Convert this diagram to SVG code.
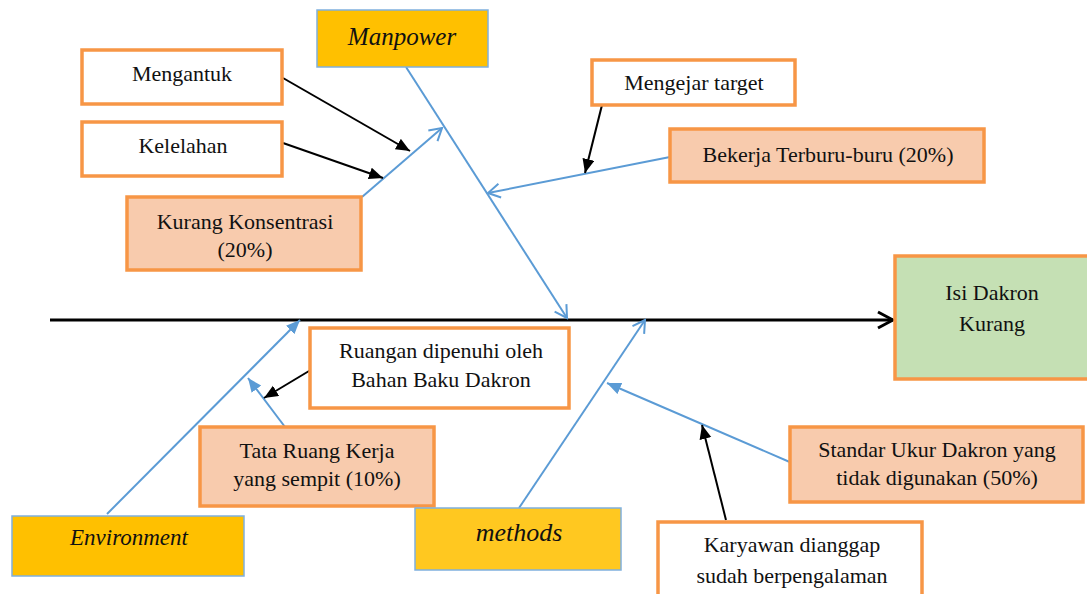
<svg xmlns="http://www.w3.org/2000/svg" width="1087" height="594" viewBox="0 0 1087 594">
  <style>
    text { font-family: "Liberation Serif", Tinos, "Noto Serif", FreeSerif, "DejaVu Serif", "Times New Roman", Times, serif; }
    .txt { font-size: 22px; fill: #111111; text-anchor: middle; }
    .cat { font-style: italic; fill: #111111; text-anchor: middle; }
    .cause { fill: #ffffff; stroke: #f79646; stroke-width: 3.5; }
    .major { fill: #f8cbad; stroke: #f79646; stroke-width: 3.5; }
    .effect { fill: #c5e0b4; stroke: #f79646; stroke-width: 3.5; }
    .head { fill: #ffc000; stroke: #7fb0de; stroke-width: 1.5; }
    .bone { stroke: #5b9bd5; stroke-width: 2; fill: none; }
    .sub { stroke: #000000; stroke-width: 2; fill: none; }
  </style>
  <defs>
    <marker id="blackTri" markerUnits="userSpaceOnUse" markerWidth="16" markerHeight="14" refX="14" refY="6" orient="auto">
      <path d="M0,0 L14,6 L0,12 Z" fill="#000000"/>
    </marker>
    <marker id="blueOpen" markerUnits="userSpaceOnUse" markerWidth="16" markerHeight="18" refX="13" refY="8" orient="auto">
      <path d="M1,1 L13,8 L1,15" fill="none" stroke="#5b9bd5" stroke-width="2"/>
    </marker>
    <marker id="blueTri" markerUnits="userSpaceOnUse" markerWidth="16" markerHeight="14" refX="14" refY="6" orient="auto">
      <path d="M0,0 L14,6 L0,12 Z" fill="#5b9bd5"/>
    </marker>
    <marker id="spineHead" markerUnits="userSpaceOnUse" markerWidth="20" markerHeight="22" refX="17" refY="10" orient="auto">
      <path d="M2,2 L17,10 L2,18" fill="none" stroke="#000000" stroke-width="3"/>
    </marker>
  </defs>

  <!-- connectors: spine, category bones and sub-causes -->
  <g id="connectors">
    <line x1="50" y1="320" x2="893" y2="320" stroke="#000000" stroke-width="3" marker-end="url(#spineHead)"/>
    <line class="bone" x1="406" y1="67" x2="567" y2="318" marker-end="url(#blueOpen)"/>
    <line class="bone" x1="362" y1="197" x2="442" y2="128" marker-end="url(#blueOpen)"/>
    <line class="bone" x1="670" y1="157" x2="488" y2="193" marker-end="url(#blueOpen)"/>
    <line class="bone" x1="519" y1="508" x2="645" y2="320" marker-end="url(#blueOpen)"/>
    <line class="bone" x1="107" y1="514" x2="300" y2="320" marker-end="url(#blueTri)"/>
    <line class="bone" x1="285" y1="427" x2="248" y2="378" marker-end="url(#blueTri)"/>
    <line class="bone" x1="792" y1="463" x2="607" y2="383" marker-end="url(#blueTri)"/>
    <line class="sub" x1="283" y1="78" x2="410" y2="151" marker-end="url(#blackTri)"/>
    <line class="sub" x1="283" y1="143" x2="383" y2="178" marker-end="url(#blackTri)"/>
    <line class="sub" x1="602" y1="105" x2="585" y2="173" marker-end="url(#blackTri)"/>
    <line class="sub" x1="314" y1="368" x2="264" y2="398" marker-end="url(#blackTri)"/>
    <line class="sub" x1="726" y1="520" x2="702" y2="425" marker-end="url(#blackTri)"/>
  </g>

  <g id="manpower">
    <rect class="head" x="317" y="10" width="171" height="57"/>
    <text class="cat" x="402" y="45" font-size="25">Manpower</text>
  </g>

  <g id="mengantuk">
    <rect class="cause" x="82" y="50" width="200" height="54"/>
    <text class="txt" x="182" y="81">Mengantuk</text>
  </g>

  <g id="kelelahan">
    <rect class="cause" x="82" y="122" width="200" height="54"/>
    <text class="txt" x="183" y="153">Kelelahan</text>
  </g>

  <g id="kurang-konsentrasi">
    <rect class="major" x="127" y="197" width="234" height="73"/>
    <text class="txt" x="245" y="229">Kurang Konsentrasi</text>
    <text class="txt" x="245" y="257">(20%)</text>
  </g>

  <g id="mengejar-target">
    <rect class="cause" x="592" y="60" width="203" height="45"/>
    <text class="txt" x="694" y="90">Mengejar target</text>
  </g>

  <g id="bekerja-terburu">
    <rect class="major" x="670" y="129" width="314" height="53"/>
    <text class="txt" x="828" y="162">Bekerja Terburu-buru (20%)</text>
  </g>

  <g id="effect">
    <rect class="effect" x="895" y="256" width="196" height="123"/>
    <text class="txt" x="992" y="300">Isi Dakron</text>
    <text class="txt" x="992" y="331">Kurang</text>
  </g>

  <g id="ruangan">
    <rect class="cause" x="310" y="328" width="259" height="80"/>
    <text class="txt" x="441" y="358">Ruangan dipenuhi oleh</text>
    <text class="txt" x="441" y="387">Bahan Baku Dakron</text>
  </g>

  <g id="tata-ruang">
    <rect class="major" x="200" y="427" width="234" height="79"/>
    <text class="txt" x="317" y="458">Tata Ruang Kerja</text>
    <text class="txt" x="317" y="486">yang sempit (10%)</text>
  </g>

  <g id="environment">
    <rect class="head" x="12" y="516" width="232" height="60"/>
    <text class="cat" x="129" y="545" font-size="23">Environment</text>
  </g>

  <g id="methods">
    <rect class="head" x="415" y="508" width="206" height="62" style="fill:#ffc820"/>
    <text class="cat" x="519" y="541" font-size="26">methods</text>
  </g>

  <g id="standar-ukur">
    <rect class="major" x="790" y="427" width="293" height="75"/>
    <text class="txt" x="937" y="457">Standar Ukur Dakron yang</text>
    <text class="txt" x="937" y="485">tidak digunakan (50%)</text>
  </g>

  <g id="karyawan">
    <rect class="cause" x="658" y="522" width="264" height="80"/>
    <text class="txt" x="792" y="552">Karyawan dianggap</text>
    <text class="txt" x="792" y="583">sudah berpengalaman</text>
  </g>
</svg>
